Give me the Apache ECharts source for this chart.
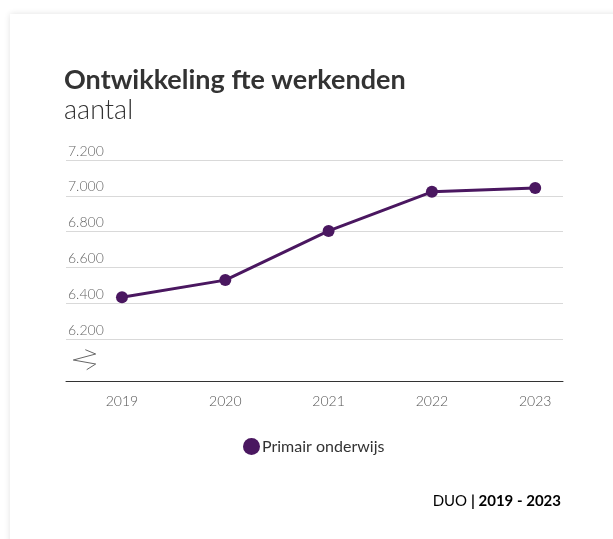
<!DOCTYPE html>
<html>
<head>
<meta charset="utf-8">
<script src="https://cdn.jsdelivr.net/npm/echarts@6/dist/echarts.min.js"></script>
<style>
  html, body { margin: 0; padding: 0; background: #ffffff; overflow: hidden; }
  #card {
    position: absolute; left: 10px; top: 14px; width: 640px; height: 560px;
    background: #ffffff; box-shadow: 0 0 6px rgba(0,0,0,0.12);
  }
  #chart { position: absolute; left: 0; top: 0; width: 613px; height: 539px; }
</style>
</head>
<body>
<div id="card"></div>
<div id="chart"></div>
<script>
// Fte werkenden in het primair onderwijs, per jaar
const years = [2019, 2020, 2021, 2022, 2023];
const fteValues = [6433, 6529, 6804, 7022, 7043];
const yTicks = [6200, 6400, 6600, 6800, 7000, 7200];
const seriesName = 'Primair onderwijs';
const lineColor = '#4a1760';
const fontFamily = 'Lato, "Noto Sans", sans-serif';

const chart = echarts.init(document.getElementById('chart'), null, { renderer: 'canvas' });

const nlFormat = v => String(v).replace(/\B(?=(\d{3})+(?!\d))/g, '.');

chart.setOption({
  backgroundColor: 'transparent',
  animation: false,
  textStyle: { fontFamily: fontFamily },
  title: {
    left: 64, top: 67, padding: 0,
    text: 'Ontwikkeling fte werkenden',
    subtext: 'aantal',
    itemGap: 3,
    textStyle: { fontFamily: fontFamily, fontSize: 27, fontWeight: 'bold', color: '#333333' },
    subtextStyle: { fontFamily: fontFamily, fontSize: 27, fontWeight: 300, color: '#333333' }
  },
  legend: {
    left: 243, top: 438, padding: 0,
    icon: 'circle', itemWidth: 17, itemHeight: 17, itemGap: 0,
    textStyle: { fontFamily: fontFamily, fontSize: 16, color: '#333333', padding: [0, 0, 0, -3] },
    data: [seriesName]
  },
  grid: { left: 66, right: 50, top: 160, bottom: 200 },
  xAxis: {
    type: 'value',
    min: 2018.458, max: 2023.269,
    offset: 42,
    axisLine: { show: true, lineStyle: { color: '#333333', width: 1 } },
    axisTick: { show: false },
    splitLine: { show: false },
    axisLabel: {
      customValues: years,
      formatter: v => String(v),
      margin: 13,
      fontSize: 14, color: '#555555', fontFamily: fontFamily, fontWeight: 300
    }
  },
  yAxis: {
    type: 'value',
    min: yTicks[0], max: yTicks[yTicks.length - 1], interval: 200,
    axisLine: { show: false },
    axisTick: { show: false },
    splitLine: { show: true, lineStyle: { color: '#d9d9d9', width: 1 } },
    axisLabel: {
      inside: true, align: 'left', verticalAlign: 'bottom', margin: 2,
      padding: [0, 0, 2, 0],
      formatter: nlFormat,
      fontSize: 14, color: '#666666', fontFamily: fontFamily, fontWeight: 300
    }
  },
  series: [{
    name: seriesName,
    type: 'line',
    data: years.map((y, i) => [y, fteValues[i]]),
    symbol: 'circle', symbolSize: 12,
    itemStyle: { color: lineColor },
    lineStyle: { color: lineColor, width: 3 },
    z: 5
  }],
  graphic: [
    {
      // axis break marker
      type: 'polyline', silent: true,
      shape: { points: [[85.3, 349.7], [95.7, 354], [73.3, 360], [95.7, 364], [86.7, 369.7]] },
      style: { stroke: '#666666', lineWidth: 1, fill: null }
    },
    {
      type: 'text', right: 52, top: 494,
      style: {
        text: '{n|DUO }{b|| 2019 - 2023}',
        align: 'right',
        rich: {
          n: { fontFamily: fontFamily, fontSize: 15, color: '#333333' },
          b: { fontFamily: fontFamily, fontSize: 15, color: '#333333', fontWeight: 'bold' }
        }
      }
    }
  ]
});
</script>
</body>
</html>
